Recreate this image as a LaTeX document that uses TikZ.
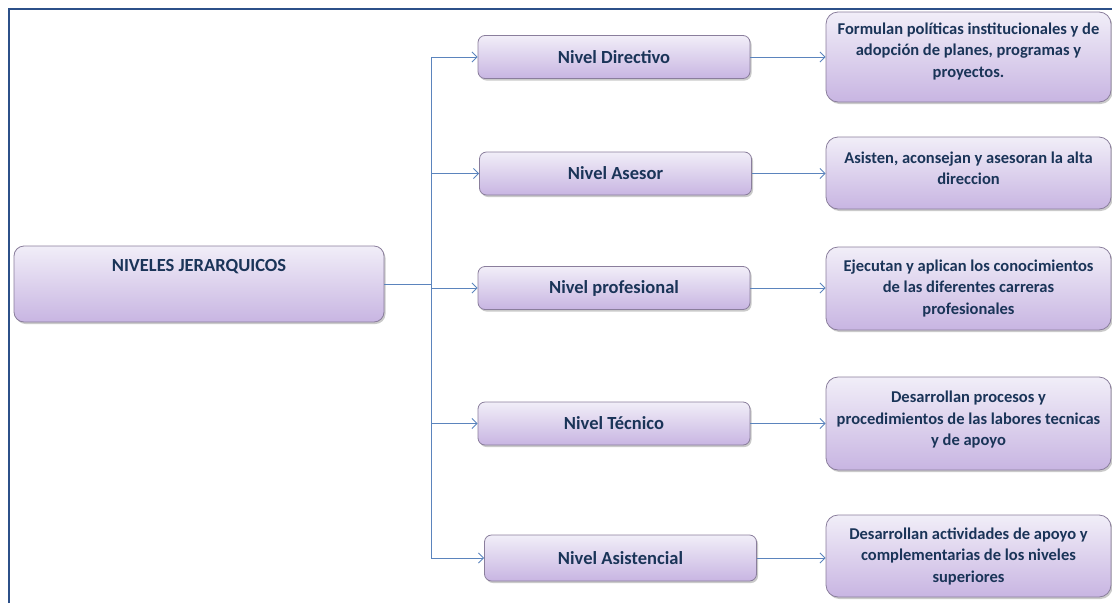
\documentclass[tikz,border=0pt]{standalone}
\usepackage{fontspec}
\setmainfont{Carlito}
\usetikzlibrary{arrows.meta,shadows}
\definecolor{frameblue}{HTML}{2C5089}
\definecolor{linkblue}{HTML}{5B84BD}
\definecolor{txtblue}{HTML}{1A3458}
\definecolor{boxtop}{HTML}{F1EEF8}
\definecolor{boxbot}{HTML}{C8B5E2}
\definecolor{boxline}{HTML}{8A7E9C}
\tikzset{
  box/.style={draw=boxline, line width=0.8pt, top color=boxtop, bottom color=boxbot,
    text=txtblue, align=center, inner sep=0pt,
    drop shadow={shadow xshift=1.5pt, shadow yshift=-2pt, opacity=0.35, fill=black!60}},
  levelbox/.style={box, rounded corners=7pt, minimum width=272pt, minimum height=43pt,
    font=\bfseries\fontsize{18.5}{22}\selectfont},
  descbox/.style={box, rounded corners=12pt, minimum width=285pt,
    font=\bfseries\fontsize{16.5}{21.5}\selectfont},
  link/.style={draw=linkblue, line width=0.9pt, -{Straight Barb[length=5pt,width=10pt]}},
  plainlink/.style={draw=linkblue, line width=0.9pt},
  frame/.style={draw=frameblue, line width=2.2pt}
}
\begin{document}
\begin{tikzpicture}[x=1pt,y=-1pt]
\useasboundingbox (0,0) rectangle (1112,603);
\draw[frame] (9,603) -- (9,9) -- (1112,9);

\node[box, rounded corners=10pt, minimum width=370pt, minimum height=76pt,
  font=\bfseries\fontsize{18.5}{22}\selectfont,
  text height=13pt, text depth=39pt] (main) at (199,284) {NIVELES JERARQUICOS};

\node[levelbox] (dir) at (614,57) {Nivel Directivo};
\node[levelbox] (ase) at (615.5,173.5) {Nivel Asesor};
\node[levelbox] (pro) at (614,288) {Nivel profesional};
\node[levelbox] (tec) at (614,423.5) {Nivel Técnico};
\node[levelbox, minimum height=46pt] (asi) at (620.5,558) {Nivel Asistencial};

\node[descbox, minimum height=90pt, text depth=14pt] (d1) at (968.5,57)
  {Formulan políticas institucionales y de\\adopción de planes, programas y\\proyectos.};
\node[descbox, minimum height=72pt, text depth=10pt] (d2) at (968.5,173)
  {Asisten, aconsejan y asesoran la alta\\direccion};
\node[descbox, minimum height=83pt] (d3) at (968.5,288.5)
  {Ejecutan y aplican los conocimientos\\de las diferentes carreras\\profesionales};
\node[descbox, minimum height=93pt, text depth=10pt] (d4) at (968.5,423.5)
  {Desarrollan procesos y\\procedimientos de las labores tecnicas\\y de apoyo};
\node[descbox, minimum height=82pt] (d5) at (968.5,556)
  {Desarrollan actividades de apoyo y\\complementarias de los niveles\\superiores};

\coordinate (j) at (431,284);
\draw[plainlink] (main.east |- j) -- (j);
\draw[link] (j) |- (dir.west);
\draw[link] (j) |- (ase.west);
\draw[link] (j) |- (pro.west);
\draw[link] (j) |- (tec.west);
\draw[link] (j) |- (asi.west);

\draw[link] (dir.east) -- (d1.west |- dir.east);
\draw[link] (ase.east) -- (d2.west |- ase.east);
\draw[link] (pro.east) -- (d3.west |- pro.east);
\draw[link] (tec.east) -- (d4.west |- tec.east);
\draw[link] (asi.east) -- (d5.west |- asi.east);
\end{tikzpicture}
\end{document}
